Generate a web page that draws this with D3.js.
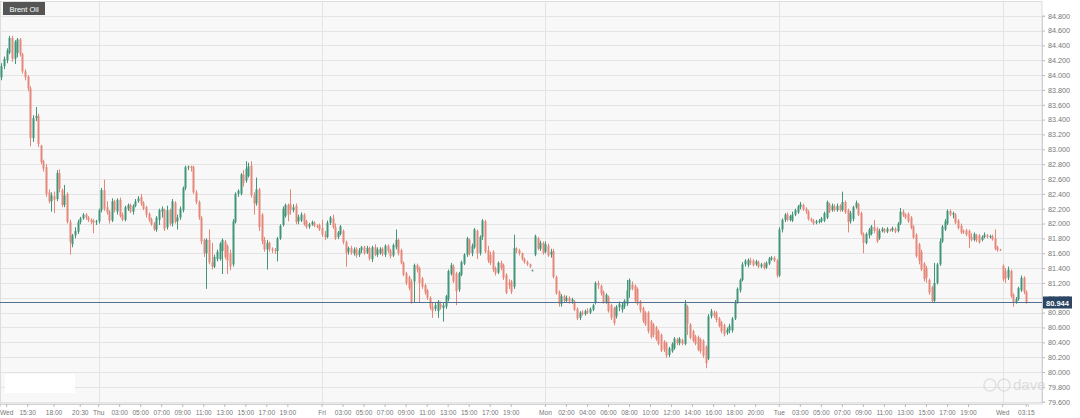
<!DOCTYPE html>
<html><head><meta charset="utf-8">
<script src="https://cdn.jsdelivr.net/npm/d3@7/dist/d3.min.js"></script>
<style>html,body{margin:0;padding:0;background:#fff;}svg{display:block;font-family:"Liberation Sans",Arial,sans-serif;}</style>
</head><body><svg id="c" width="1080" height="418"></svg>
<script>
const title = "Brent Oil";
const lastPrice = 80.944;
const yTicks = d3.range(0, 27).map(i => +(79.6 + i * 0.2).toFixed(1));
const xTickIdx = [2,10,20,30,37,45,53,61,69,77,85,93,101,109,122,130,138,146,154,162,170,178,186,194,207,215,223,231,239,247,255,263,271,279,287,296,304,312,320,328,336,344,352,360,368,381,390];
const xTickLabels = ["Wed","15:30","18:00","20:30","Thu","03:00","05:00","07:00","09:00","11:00","13:00","15:00","17:00","19:00","Fri","03:00","05:00","07:00","09:00","11:00","13:00","15:00","17:00","19:00","Mon","02:00","04:00","06:00","08:00","10:00","12:00","14:00","16:00","18:00","20:00","Tue","03:00","05:00","07:00","09:00","11:00","13:00","15:00","17:00","19:00","Wed","03:15"];
const dayStartIdx = [37,122,207,296,381];

const opens = [83.97,84.12,84.20,84.30,84.50,84.22,84.30,84.48,84.28,84.05,
83.98,83.82,83.15,83.42,83.45,83.05,82.84,82.76,82.42,82.30,
82.37,82.33,82.68,82.45,82.25,82.40,82.02,81.72,81.84,81.89,
82.02,82.07,82.12,82.08,82.05,82.04,82.02,82.03,82.18,82.45,
82.22,82.16,82.04,82.30,82.16,82.32,82.12,82.05,82.20,82.25,
82.16,82.24,82.30,82.36,82.28,82.22,82.13,82.06,82.00,81.92,
82.05,82.16,82.18,81.95,82.18,82.00,82.28,82.03,82.08,82.18,
82.48,82.76,82.77,82.76,82.42,82.29,82.08,81.78,81.60,81.78,
81.48,81.42,81.52,81.52,81.63,81.76,81.70,81.60,81.45,82.02,
82.40,82.40,82.66,82.58,82.64,82.78,82.38,82.27,82.46,82.12,
81.78,81.65,81.74,81.66,81.64,81.63,81.80,81.98,82.10,82.25,
82.26,82.18,82.24,82.03,82.04,82.12,82.03,81.96,81.99,82.01,
81.97,81.98,81.94,81.85,81.82,82.01,82.07,81.95,81.82,81.86,
81.90,81.75,81.62,81.67,81.60,81.66,81.58,81.64,81.68,81.61,
81.67,81.52,81.68,81.58,81.60,81.66,81.58,81.70,81.64,81.57,
81.68,81.78,81.64,81.47,81.33,81.28,81.22,81.22,81.44,81.40,
81.26,81.17,81.10,81.00,80.88,80.85,80.82,80.92,80.86,80.88,
80.98,81.32,81.42,81.33,81.11,81.31,81.46,81.58,81.78,81.60,
81.68,81.90,81.60,81.82,82.03,81.64,81.58,81.62,81.40,81.34,
81.47,81.44,81.31,81.20,81.22,81.15,81.66,81.64,81.60,81.52,
81.48,81.45,81.37,81.58,81.80,81.66,81.74,81.62,81.70,81.58,
81.63,81.28,81.08,80.92,81.02,80.96,81.00,80.95,80.95,80.85,
80.73,80.80,80.78,80.82,80.80,80.84,80.93,81.20,81.16,81.08,
80.94,81.01,80.90,80.86,80.75,80.87,80.84,80.88,80.92,81.10,
81.18,81.16,81.12,80.95,80.86,80.80,80.80,80.68,80.64,80.60,
80.55,80.50,80.41,80.39,80.23,80.28,80.32,80.44,80.39,80.43,
80.38,80.88,80.64,80.55,80.48,80.47,80.44,80.42,80.34,80.18,
80.75,80.80,80.80,80.72,80.67,80.63,80.53,80.56,80.56,80.72,
80.94,81.10,81.24,81.45,81.44,81.50,81.50,81.45,81.48,81.42,
81.46,81.41,81.46,81.52,81.54,81.50,81.30,81.92,82.05,82.12,
82.05,82.04,82.12,82.15,82.22,82.25,82.20,82.16,82.06,82.04,
82.01,82.02,82.03,82.04,82.08,82.26,82.18,82.23,82.18,82.24,
82.18,82.29,82.18,82.03,82.06,82.22,82.26,82.14,81.86,81.74,
81.84,81.86,81.95,81.93,81.80,81.90,81.92,81.89,81.92,81.91,
81.93,81.90,82.00,82.16,82.12,82.13,82.08,81.96,81.85,81.72,
81.62,81.46,81.40,81.24,81.14,80.96,81.20,81.45,81.76,81.92,
82.00,82.17,82.12,82.12,82.04,81.97,81.90,81.91,81.90,81.82,
81.78,81.84,81.84,81.78,81.82,81.84,81.82,81.83,81.80,81.68,
81.65,81.43,81.36,81.27,81.36,81.04,80.94,80.98,81.10,81.27,81.08];

const highs = [84.16,84.25,84.36,84.53,84.53,84.47,84.50,84.50,84.30,84.08,
84.00,83.85,83.46,83.57,83.48,83.06,82.86,82.80,82.46,82.42,
82.43,82.72,82.73,82.47,82.52,82.42,82.05,81.86,81.95,82.05,
82.09,82.14,82.14,82.10,82.07,82.06,82.05,82.20,82.48,82.59,
82.30,82.18,82.34,82.32,82.34,82.35,82.15,82.24,82.27,82.27,
82.26,82.33,82.37,82.40,82.30,82.24,82.15,82.08,82.02,82.10,
82.20,82.23,82.20,82.24,82.20,82.33,82.30,82.12,82.23,82.50,
82.78,82.78,82.78,82.78,82.45,82.31,82.10,81.80,81.80,81.92,
81.74,81.58,81.65,81.75,81.80,81.78,81.72,81.65,82.06,82.42,
82.46,82.68,82.72,82.84,82.82,82.84,82.42,82.62,82.48,82.14,
81.82,81.78,81.76,81.68,81.67,81.82,81.99,82.23,82.27,82.27,
82.46,82.26,82.27,82.12,82.15,82.14,82.05,82.01,82.04,82.03,
81.99,82.00,82.05,81.90,82.04,82.10,82.12,82.00,81.90,81.98,
81.92,81.77,81.69,81.70,81.68,81.68,81.67,81.70,81.70,81.70,
81.69,81.70,81.72,81.68,81.68,81.68,81.72,81.72,81.66,81.73,
81.92,81.80,81.66,81.49,81.35,81.30,81.25,81.46,81.46,81.42,
81.28,81.19,81.12,81.02,80.93,80.93,80.97,80.95,80.93,81.04,
81.38,81.47,81.45,81.35,81.35,81.50,81.60,81.82,81.80,81.73,
81.94,81.92,81.84,82.06,82.05,81.70,81.62,81.64,81.42,81.49,
81.50,81.46,81.33,81.25,81.24,81.85,81.68,81.66,81.61,81.54,
81.50,81.46,81.38,81.85,81.82,81.77,81.76,81.76,81.73,81.66,
81.66,81.30,81.10,81.05,81.04,81.03,81.02,81.00,80.97,80.87,
80.82,80.83,80.84,80.86,80.87,80.92,81.22,81.23,81.18,81.10,
81.06,81.03,80.92,80.88,80.90,80.95,80.93,80.98,81.24,81.26,
81.22,81.18,81.14,80.97,80.88,80.82,80.82,80.70,80.66,80.62,
80.57,80.52,80.43,80.41,80.34,80.40,80.47,80.46,80.47,80.45,
80.97,80.90,80.66,80.57,80.50,80.49,80.46,80.44,80.36,80.78,
80.85,80.83,80.82,80.74,80.69,80.65,80.60,80.65,80.74,80.97,
81.14,81.26,81.48,81.52,81.53,81.54,81.52,81.51,81.50,81.47,
81.48,81.49,81.55,81.56,81.56,81.52,81.95,82.07,82.14,82.15,
82.12,82.16,82.20,82.25,82.29,82.27,82.22,82.18,82.08,82.06,
82.05,82.06,82.09,82.16,82.31,82.28,82.27,82.26,82.27,82.26,
82.43,82.31,82.20,82.17,82.24,82.31,82.28,82.16,81.88,81.88,
81.94,81.98,82.05,81.95,81.93,81.95,81.94,81.95,81.93,81.96,
81.95,82.02,82.21,82.19,82.14,82.15,82.10,81.98,81.87,81.74,
81.65,81.48,81.43,81.26,81.16,81.47,81.47,81.80,81.98,82.06,
82.19,82.19,82.16,82.14,82.06,82.00,81.92,81.93,81.92,81.87,
81.88,81.86,81.86,81.84,81.88,81.86,81.85,81.85,81.92,81.70,
81.66,81.45,81.40,81.42,81.38,81.06,81.01,81.15,81.30,81.29,81.10];

const lows = [83.93,84.08,84.16,84.28,84.18,84.15,84.24,84.25,84.02,83.93,
83.78,83.04,83.10,83.38,83.03,82.80,82.70,82.36,82.27,82.16,
82.14,82.30,82.42,82.22,82.22,82.00,81.58,81.68,81.80,81.86,
81.99,82.05,82.05,82.02,81.99,81.87,81.98,82.00,82.15,82.17,
82.12,82.00,82.02,82.15,82.12,82.08,82.03,82.03,82.17,82.14,
82.12,82.22,82.28,82.24,82.18,82.08,82.02,81.97,81.90,81.89,
81.98,82.08,81.90,81.92,81.97,81.96,82.00,81.92,82.05,82.15,
82.45,82.72,82.70,82.40,82.26,82.05,81.72,81.55,81.12,81.45,
81.38,81.40,81.49,81.50,81.32,81.52,81.32,81.37,81.42,82.00,
82.36,82.38,82.50,82.55,82.62,82.35,82.12,82.24,81.90,81.72,
81.62,81.38,81.62,81.60,81.59,81.49,81.78,81.96,82.08,82.03,
82.12,82.15,81.99,81.99,82.02,81.97,81.93,81.93,81.97,81.95,
81.94,81.90,81.82,81.78,81.80,81.98,81.93,81.78,81.79,81.84,
81.72,81.42,81.58,81.58,81.57,81.54,81.55,81.60,81.58,81.59,
81.50,81.48,81.56,81.55,81.58,81.56,81.55,81.60,81.53,81.55,
81.65,81.57,81.45,81.29,81.17,81.10,80.92,80.94,81.34,80.94,
81.12,81.04,80.97,80.84,80.73,80.82,80.73,80.84,80.68,80.85,
80.95,81.30,81.20,80.90,81.08,81.29,81.44,81.55,81.57,81.56,
81.66,81.52,81.57,81.78,81.60,81.47,81.44,81.35,81.30,81.32,
81.37,81.24,81.05,81.12,81.05,81.12,81.60,81.57,81.50,81.46,
81.43,81.40,81.36,81.56,81.64,81.63,81.58,81.60,81.55,81.54,
81.26,81.04,80.88,80.88,80.93,80.94,80.92,80.92,80.82,80.70,
80.70,80.76,80.76,80.78,80.78,80.82,80.91,81.12,81.03,80.92,
80.92,80.80,80.70,80.63,80.72,80.82,80.80,80.85,80.89,81.00,
81.10,80.94,80.90,80.80,80.66,80.62,80.52,80.45,80.47,80.42,
80.36,80.27,80.27,80.19,80.20,80.26,80.30,80.36,80.36,80.36,
80.36,80.50,80.44,80.40,80.36,80.28,80.25,80.19,80.05,80.16,
80.72,80.73,80.67,80.60,80.52,80.48,80.50,80.52,80.53,80.70,
80.92,81.07,81.22,81.42,81.41,81.44,81.42,81.43,81.40,81.40,
81.38,81.39,81.44,81.50,81.48,81.27,81.28,81.88,82.02,82.03,
82.03,82.02,82.10,82.13,82.19,82.17,82.13,82.04,82.02,81.98,
81.99,82.00,82.01,82.02,82.06,82.14,82.16,82.16,82.16,82.16,
82.16,82.13,81.88,82.00,82.03,82.20,82.10,81.84,81.60,81.72,
81.80,81.84,81.87,81.74,81.78,81.88,81.87,81.87,81.89,81.89,
81.87,81.88,81.98,82.09,82.06,82.01,81.92,81.79,81.54,81.45,
81.36,81.22,81.20,81.04,80.94,80.94,81.18,81.43,81.74,81.90,
81.98,82.10,82.07,81.99,81.92,81.86,81.86,81.83,81.67,81.76,
81.76,81.75,81.73,81.76,81.80,81.80,81.80,81.77,81.64,81.62,
81.63,81.22,81.20,81.24,81.00,80.88,80.92,80.96,81.08,81.05,80.92];

const closes = [84.12,84.22,84.33,84.50,84.22,84.45,84.48,84.28,84.05,83.97,
83.82,83.15,83.42,83.45,83.07,82.83,82.74,82.40,82.30,82.38,
82.32,82.68,82.47,82.25,82.38,82.02,81.75,81.84,81.90,82.02,
82.07,82.12,82.08,82.05,82.02,82.01,82.03,82.18,82.45,82.20,
82.15,82.04,82.30,82.18,82.32,82.10,82.05,82.22,82.25,82.16,
82.24,82.30,82.34,82.27,82.20,82.12,82.05,81.99,81.92,82.08,
82.18,82.20,81.93,82.18,82.00,82.30,82.02,82.08,82.20,82.48,
82.76,82.77,82.75,82.42,82.29,82.08,81.76,81.60,81.78,81.48,
81.42,81.55,81.62,81.73,81.78,81.55,81.50,81.42,82.03,82.40,
82.44,82.66,82.55,82.74,82.77,82.38,82.27,82.46,81.95,81.76,
81.65,81.74,81.66,81.64,81.63,81.80,81.97,82.20,82.25,82.12,
82.18,82.22,82.02,82.09,82.12,81.99,81.95,81.99,82.02,81.97,
81.96,81.92,81.85,81.82,82.01,82.08,81.95,81.80,81.88,81.96,
81.75,81.60,81.67,81.60,81.65,81.57,81.64,81.68,81.60,81.67,
81.53,81.68,81.58,81.65,81.66,81.59,81.70,81.63,81.56,81.71,
81.78,81.60,81.47,81.31,81.20,81.13,80.94,81.44,81.38,81.20,
81.15,81.07,81.00,80.87,80.82,80.90,80.95,80.87,80.90,81.02,
81.36,81.44,81.22,81.09,81.33,81.48,81.58,81.80,81.60,81.70,
81.92,81.60,81.82,82.04,81.62,81.50,81.47,81.38,81.33,81.47,
81.40,81.27,81.07,81.17,81.08,81.67,81.64,81.60,81.52,81.48,
81.45,81.42,81.37,81.83,81.66,81.74,81.60,81.72,81.57,81.62,
81.28,81.06,80.92,81.02,80.96,81.00,80.95,80.98,80.84,80.72,
80.80,80.78,80.82,80.80,80.85,80.90,81.20,81.17,81.06,80.94,
81.04,80.82,80.73,80.66,80.88,80.92,80.90,80.96,81.10,81.24,
81.12,80.96,80.92,80.83,80.69,80.64,80.55,80.47,80.50,80.44,
80.38,80.29,80.30,80.22,80.32,80.38,80.45,80.39,80.45,80.38,
80.92,80.65,80.46,80.42,80.38,80.30,80.28,80.22,80.12,80.75,
80.82,80.76,80.70,80.62,80.55,80.51,80.57,80.62,80.72,80.94,
81.12,81.24,81.45,81.50,81.51,81.47,81.44,81.49,81.42,81.45,
81.40,81.47,81.53,81.54,81.50,81.30,81.92,82.05,82.12,82.05,
82.10,82.12,82.18,82.23,82.26,82.19,82.16,82.06,82.04,82.00,
82.03,82.04,82.07,82.14,82.29,82.16,82.24,82.18,82.24,82.18,
82.29,82.15,82.02,82.14,82.22,82.28,82.12,81.86,81.74,81.86,
81.92,81.96,81.90,81.76,81.90,81.93,81.89,81.93,81.91,81.94,
81.89,82.00,82.16,82.11,82.08,82.03,81.94,81.81,81.56,81.50,
81.38,81.25,81.27,81.07,80.96,81.20,81.45,81.76,81.96,82.03,
82.17,82.12,82.14,82.01,81.94,81.88,81.88,81.85,81.81,81.78,
81.86,81.78,81.75,81.82,81.85,81.82,81.83,81.79,81.66,81.64,
81.64,81.25,81.26,81.38,81.02,80.93,80.98,81.13,81.27,81.08,80.944];

const upColor = "#439579", downColor = "#e5887a";

const svg = d3.select("#c");
const W = 1080, H = 418;
const plot = {left: 0, right: 1042, top: 2, bottom: 404};
const N = closes.length;

const x = d3.scaleBand().domain(d3.range(N)).range([-0.3, -0.3 + 2.63 * N]).padding(0.3);
const xc = i => x(i) + x.bandwidth() / 2;
const y = d3.scaleLinear().domain([79.6, 84.8]).range([401.7, 15.7]);

svg.append("rect").attr("x", 0).attr("y", 0).attr("width", W).attr("height", H).attr("fill", "#ffffff");
svg.append("rect").attr("x", plot.left).attr("y", plot.top).attr("width", plot.right - plot.left).attr("height", plot.bottom - plot.top).attr("fill", "#f8f8f8");

// horizontal grid
svg.append("g").selectAll("line").data(yTicks).join("line")
  .attr("x1", plot.left).attr("x2", plot.right)
  .attr("y1", d => Math.round(y(d)) + 0.5).attr("y2", d => Math.round(y(d)) + 0.5)
  .attr("stroke", "#e4e4e4").attr("stroke-width", 1);
// vertical day lines
svg.append("g").selectAll("line").data(dayStartIdx).join("line")
  .attr("x1", d => Math.round(xc(d)) + 0.5).attr("x2", d => Math.round(xc(d)) + 0.5)
  .attr("y1", plot.top).attr("y2", plot.bottom)
  .attr("stroke", "#e4e4e4").attr("stroke-width", 1);
// border
svg.append("rect").attr("x", 0.5).attr("y", 1.5).attr("width", plot.right - 0.5).attr("height", plot.bottom - 1.5)
  .attr("fill", "none").attr("stroke", "#dddddd");

// y axis on right
const yAxis = d3.axisRight(y).tickValues(yTicks).tickSize(3).tickPadding(3).tickFormat(d3.format(".3f"));
const gy = svg.append("g").attr("transform", `translate(${plot.right},0)`).call(yAxis);
gy.select(".domain").attr("stroke", "#d0d0d0");
gy.selectAll(".tick line").attr("stroke", "#bbbbbb");
gy.selectAll(".tick text").attr("fill", "#777").attr("font-size", 7.2).attr("font-family", "Liberation Sans, Arial, sans-serif");

// x axis
const xAxis = d3.axisBottom(x).tickValues(xTickIdx).tickSize(3).tickPadding(3)
  .tickFormat((d) => xTickLabels[xTickIdx.indexOf(d)]);
const gx = svg.append("g").attr("transform", `translate(0,${plot.bottom})`).call(xAxis);
gx.select(".domain").attr("stroke", "#d0d0d0");
gx.selectAll(".tick line").attr("stroke", "#bbbbbb");
gx.selectAll(".tick text").attr("fill", "#777").attr("font-size", 6.6).attr("font-family", "Liberation Sans, Arial, sans-serif");

// candles
const idx = d3.range(N);
const cg = svg.append("g");
cg.selectAll("line.wick").data(idx).join("line").attr("class", "wick")
  .attr("x1", i => Math.round(xc(i)) + 0.5).attr("x2", i => Math.round(xc(i)) + 0.5)
  .attr("y1", i => y(highs[i])).attr("y2", i => y(lows[i]))
  .attr("stroke", i => closes[i] >= opens[i] ? upColor : downColor).attr("stroke-width", 1);
cg.selectAll("rect.body").data(idx).join("rect").attr("class", "body")
  .attr("x", i => Math.round(xc(i)) - 0.5)
  .attr("width", 2)
  .attr("y", i => y(Math.max(opens[i], closes[i])))
  .attr("height", i => Math.max(1, Math.abs(y(opens[i]) - y(closes[i]))))
  .attr("fill", i => closes[i] >= opens[i] ? upColor : downColor);

// last price line
const ly = Math.round(y(lastPrice)) + 0.5;
svg.append("line").attr("x1", 0).attr("x2", plot.right).attr("y1", ly).attr("y2", ly)
  .attr("stroke", "#52708f").attr("stroke-width", 1);
svg.append("rect").attr("x", plot.right + 1).attr("y", ly - 6).attr("width", 29).attr("height", 12).attr("fill", "#2c4765");
svg.append("text").attr("x", plot.right + 15.5).attr("y", ly + 3).attr("text-anchor", "middle")
  .attr("fill", "#fff").attr("font-size", 7.5).attr("font-weight", "bold").text(d3.format(".3f")(lastPrice));

// title tag
svg.append("rect").attr("x", 3).attr("y", 2).attr("width", 42).attr("height", 13).attr("fill", "#555");
svg.append("text").attr("x", 24).attr("y", 11.5).attr("text-anchor", "middle").attr("fill", "#fff").attr("font-size", 7.5).text(title);

// blank box bottom-left
svg.append("rect").attr("x", 5).attr("y", 374).attr("width", 70).attr("height", 19).attr("fill", "#ffffff");

// faint watermark bottom-right
const wm = svg.append("g").attr("opacity", 0.55);
wm.append("circle").attr("cx", 990).attr("cy", 385).attr("r", 6).attr("fill", "none").attr("stroke", "#cfcfcf").attr("stroke-width", 1.5);
wm.append("circle").attr("cx", 1004).attr("cy", 385).attr("r", 6).attr("fill", "none").attr("stroke", "#cfcfcf").attr("stroke-width", 1.5);
wm.append("text").attr("x", 1013).attr("y", 390).attr("fill", "#c8c8c8").attr("font-size", 15).attr("font-family", "Liberation Sans, Arial, sans-serif").text("dave");
</script></body></html>
